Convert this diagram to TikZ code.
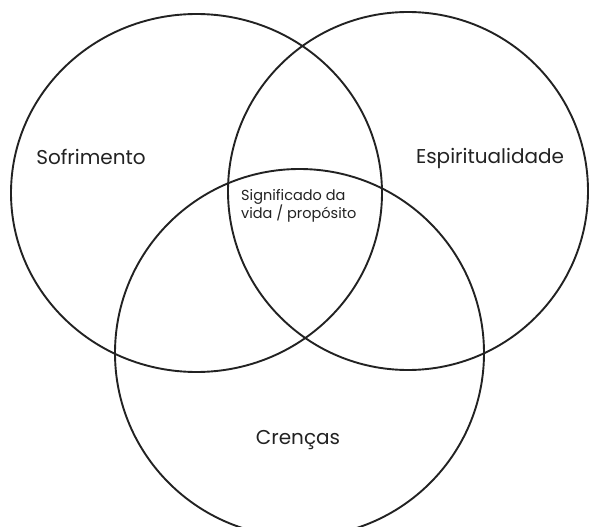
\documentclass[tikz,border=0pt]{standalone}
\usepackage{fontspec}
\setmainfont{Poppins}
\definecolor{ink}{HTML}{222222}
\begin{document}
\begin{tikzpicture}[x=1pt,y=-1pt,
  ring/.style={draw=ink,line width=1.9pt},
  lbl/.style={text=ink,font=\fontsize{20}{24}\selectfont,inner sep=0pt},
  small/.style={text=ink,font=\fontsize{14.5}{16.5}\selectfont,inner sep=0pt,align=left}]
\useasboundingbox (0,0) rectangle (590,527);
\begin{scope}
\clip (0,0) rectangle (590,527);
\draw[ring] (196.5,193) ellipse [x radius=185.5, y radius=179];
\draw[ring] (408,191) ellipse [x radius=180, y radius=179];
\draw[ring] (299.5,353) ellipse [x radius=184.5, y radius=184];
\end{scope}
\node[lbl] (suf) at (91,157) {Sofrimento};
\node[lbl] (esp) at (490,158) {Espiritualidade};
\node[small,anchor=north west] (sig) at (241,189) {Significado da\\vida / propósito};
\node[lbl] (cre) at (298,440) {Crenças};
\end{tikzpicture}
\end{document}
